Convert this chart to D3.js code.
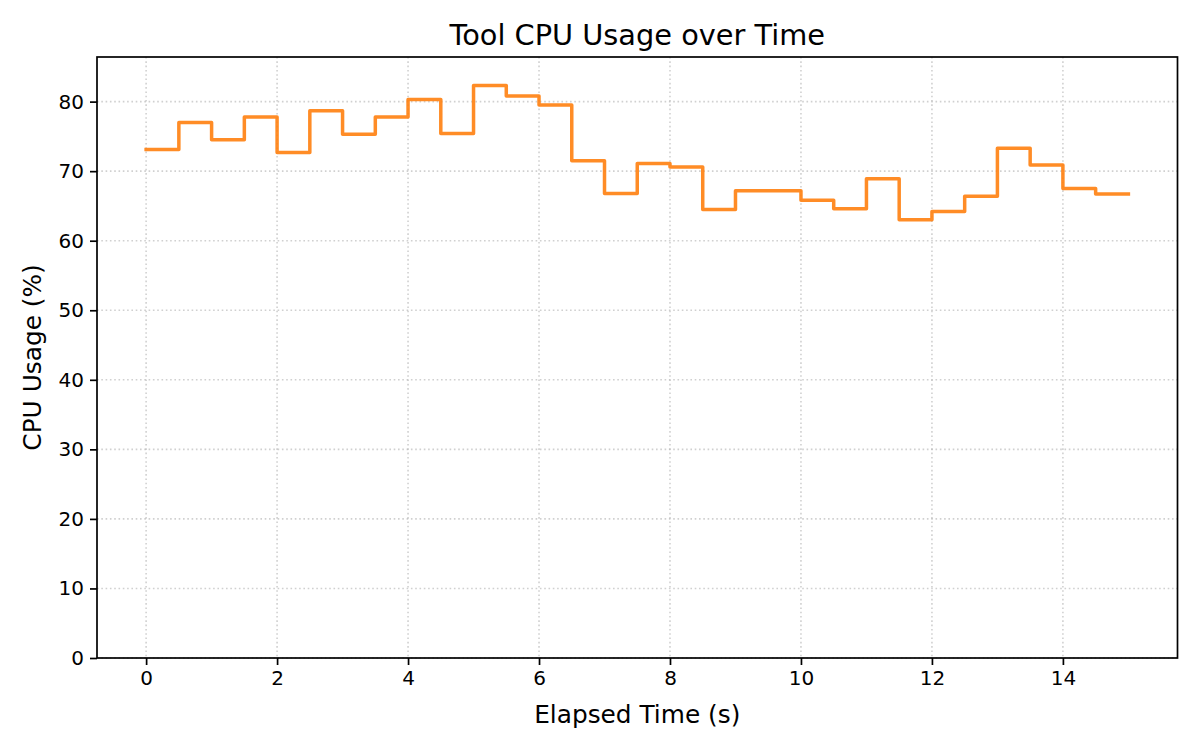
<!DOCTYPE html>
<html>
<head>
<meta charset="utf-8">
<script src="https://cdn.jsdelivr.net/npm/d3@7"></script>
<style>
  body { margin: 0; background: #fff; }
  svg { font-family: 'DejaVu Sans', sans-serif; display: block; }
</style>
</head>
<body>
<svg width="1200" height="750"></svg>
<script>
// sample times (s) and cpu readings (%), one per half second
const elapsedTimes = [0, 0.5, 1, 1.5, 2, 2.5, 3, 3.5, 4, 4.5, 5, 5.5, 6, 6.5, 7, 7.5,
    8, 8.5, 9, 9.5, 10, 10.5, 11, 11.5, 12, 12.5, 13, 13.5, 14, 14.5, 15];
const cpuValues = [73.1, 77.0, 74.5, 77.8, 72.7, 78.7, 75.3, 77.8, 80.3, 75.4, 82.3, 80.8,
    79.5, 71.5, 66.8, 71.1, 70.6, 64.5, 67.2, 67.2, 65.8, 64.6, 68.9, 63.0, 64.2, 66.4,
    73.3, 70.9, 67.5, 66.7, 66.7];
const xTicks = [0, 2, 4, 6, 8, 10, 12, 14];
const yTicks = [0, 10, 20, 30, 40, 50, 60, 70, 80];

(function (d3) {
    'use strict';
    const svg = d3.select('svg');

    const render = data => {
        const graphTitle = 'Tool CPU Usage over Time';
        const xAxisTitle = 'Elapsed Time (s)';
        const yAxisTitle = 'CPU Usage (%)';
        const xValue = d => d.t;
        const yValue = d => d.cpu;
        const width = +svg.attr('width');
        const height = +svg.attr('height');
        const margin = { top: 57, right: 22.5, bottom: 92, left: 97 };
        const innerWidth = width - margin.left - margin.right;
        const innerHeight = height - margin.top - margin.bottom;

        // matplotlib style limits: 5% padding on x, 1.05 * max on y
        const xExt = d3.extent(data, xValue);
        const xPad = (xExt[1] - xExt[0]) * 0.05;
        const xScale = d3.scaleLinear()
            .domain([xExt[0] - xPad, xExt[1] + xPad])
            .range([0, innerWidth]);

        const yScale = d3.scaleLinear()
            .domain([0, d3.max(data, yValue) * 1.05])
            .range([innerHeight, 0]);

        const g = svg.append('g')
            .attr('transform', `translate(${margin.left},${margin.top})`);

        // dotted grid
        g.append('g').selectAll('line').data(xTicks)
            .enter().append('line')
            .attr('x1', d => xScale(d)).attr('x2', d => xScale(d))
            .attr('y1', 0).attr('y2', innerHeight)
            .attr('stroke', '#b0b0b0').attr('stroke-opacity', 0.6)
            .attr('stroke-width', 1.6).attr('stroke-dasharray', '1.6,2.7');
        g.append('g').selectAll('line').data(yTicks)
            .enter().append('line')
            .attr('x1', 0).attr('x2', innerWidth)
            .attr('y1', d => yScale(d)).attr('y2', d => yScale(d))
            .attr('stroke', '#b0b0b0').attr('stroke-opacity', 0.6)
            .attr('stroke-width', 1.6).attr('stroke-dasharray', '1.6,2.7');

        const yAxis = d3.axisLeft(yScale)
            .tickValues(yTicks)
            .tickSize(7)
            .tickPadding(6);
        const yAxisG = g.append('g').call(yAxis);

        const xAxis = d3.axisBottom(xScale)
            .tickValues(xTicks)
            .tickSize(7)
            .tickPadding(6);
        const xAxisG = g.append('g').call(xAxis)
            .attr('transform', `translate(0,${innerHeight})`);

        [xAxisG, yAxisG].forEach(ax => {
            ax.select('.domain').remove();
            ax.selectAll('.tick line').attr('stroke', '#000').attr('stroke-width', 1.7);
            ax.selectAll('.tick text')
                .attr('fill', '#000')
                .style('font-size', '20px')
                .style('font-family', "'DejaVu Sans', sans-serif");
        });

        // step line, value held until next sample
        const line = d3.line()
            .x(d => xScale(xValue(d)))
            .y(d => yScale(yValue(d)))
            .curve(d3.curveStepAfter);

        g.append('path')
            .datum(data)
            .attr('d', line)
            .attr('fill', 'none')
            .attr('stroke', '#ff7f0e')
            .attr('stroke-opacity', 0.9)
            .attr('stroke-width', 3.5)
            .attr('stroke-linejoin', 'round')
            .attr('stroke-linecap', 'square');

        // frame
        g.append('rect')
            .attr('width', innerWidth)
            .attr('height', innerHeight)
            .attr('fill', 'none')
            .attr('stroke', '#000')
            .attr('stroke-width', 1.7);

        g.append('text')
            .attr('x', innerWidth / 2)
            .attr('y', innerHeight + 65)
            .attr('text-anchor', 'middle')
            .style('font-size', '24.8px')
            .text(xAxisTitle);

        g.append('text')
            .attr('transform', 'rotate(-90)')
            .attr('x', -innerHeight / 2)
            .attr('y', -56)
            .attr('text-anchor', 'middle')
            .style('font-size', '24.8px')
            .text(yAxisTitle);

        g.append('text')
            .attr('x', innerWidth / 2)
            .attr('y', -12)
            .attr('text-anchor', 'middle')
            .style('font-size', '28.8px')
            .text(graphTitle);
    };

    const data = elapsedTimes.map((t, i) => ({ t: t, cpu: cpuValues[i] }));
    render(data);
}(d3));
</script>
</body>
</html>
